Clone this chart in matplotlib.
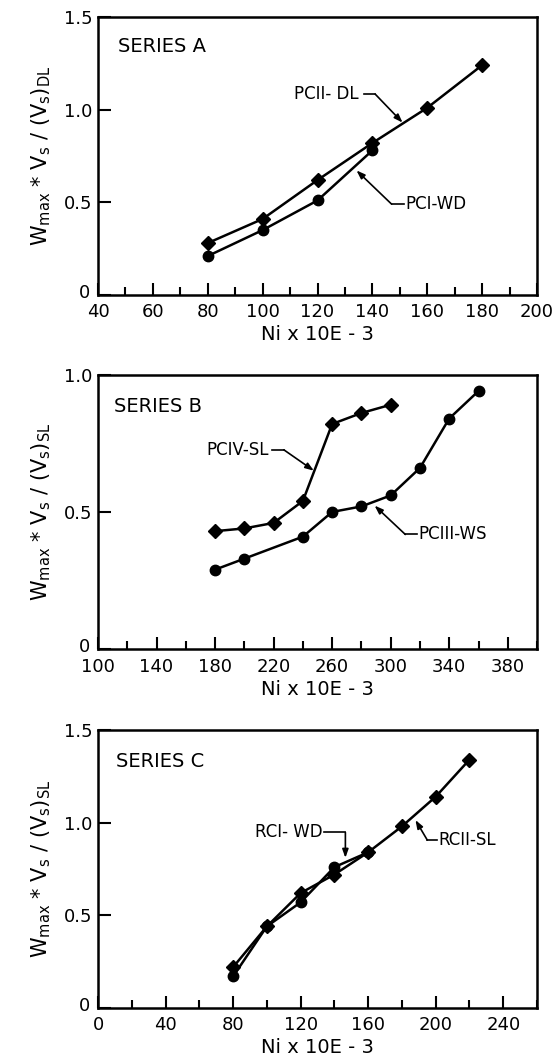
import numpy as np
import matplotlib
matplotlib.use('Agg')
import matplotlib.pyplot as plt
import matplotlib.transforms as mtrans
from matplotlib.ticker import FixedLocator, FuncFormatter

# Series A
a_x_dl = [80, 100, 120, 140, 160, 180]
a_dl = [0.28, 0.41, 0.62, 0.82, 1.01, 1.24]
a_x_wd = [80, 100, 120, 140]
a_wd = [0.21, 0.35, 0.51, 0.78]

# Series B
b_x_sl = [180, 200, 220, 240, 260, 280, 300]
b_sl = [0.43, 0.44, 0.46, 0.54, 0.82, 0.86, 0.89]
b_x_ws = [180, 200, 240, 260, 280, 300, 320, 340, 360]
b_ws = [0.29, 0.33, 0.41, 0.50, 0.52, 0.56, 0.66, 0.84, 0.94]

# Series C
c_x_sl = [80, 100, 120, 140, 160, 180, 200, 220]
c_sl = [0.22, 0.44, 0.62, 0.72, 0.84, 0.98, 1.14, 1.34]
c_x_wd = [80, 100, 120, 140, 160]
c_wd = [0.17, 0.44, 0.57, 0.76, 0.84]

plt.rcParams['font.family'] = ['DejaVu Sans']
plt.rcParams['mathtext.default'] = 'regular'

fig = plt.figure(figsize=(5.6, 10.61), dpi=100)
left, width = 0.175, 0.784
ax_a = fig.add_axes([left, 0.722, width, 0.262])
ax_b = fig.add_axes([left, 0.388, width, 0.259])
ax_c = fig.add_axes([left, 0.050, width, 0.262])

fmt = FuncFormatter(lambda v, p: '0' if v == 0 else f'{v:.1f}')
arrow = dict(arrowstyle='-|>,head_length=0.5,head_width=0.18',
             color='black', lw=1.2, shrinkA=0, shrinkB=0)


def style_axes(ax, xlim, ylim, xmajor, xminor, yticks, sub):
    ax.set_xlim(*xlim)
    ax.set_ylim(*ylim)
    ax.xaxis.set_major_locator(FixedLocator(xmajor))
    ax.xaxis.set_minor_locator(FixedLocator(xminor))
    ax.yaxis.set_major_locator(FixedLocator(yticks))
    ax.yaxis.set_major_formatter(fmt)
    ax.tick_params(which='major', direction='in', length=9, width=1.5,
                   labelsize=13, top=False, right=False)
    ax.tick_params(axis='x', which='major', pad=6)
    ax.tick_params(axis='y', which='major', pad=4)
    ax.tick_params(which='minor', direction='in', length=6, width=1.5,
                   top=False, right=False)
    for s in ax.spines.values():
        s.set_linewidth(1.8)
    ax.set_xlabel('Ni x 10E - 3', fontsize=14, labelpad=3)
    ax.set_ylabel('W$_{max}$ * V$_s$ / (V$_s$)$_{%s}$' % sub, fontsize=15,
                  labelpad=8)
    # nudge the "0" label up and left so it clears the first x label
    fig.canvas.draw()
    zero = ax.get_yticklabels()[0]
    zero.set_transform(zero.get_transform() +
                       mtrans.ScaledTranslation(-2 / 72, 3 / 72,
                                                fig.dpi_scale_trans))


def series(ax, x, y, marker):
    ax.plot(x, y, color='black', lw=1.8, marker=marker, ms=7.5,
            mfc='black', mec='black', zorder=3)


# Panel A
series(ax_a, a_x_dl, a_dl, 'D')
series(ax_a, a_x_wd, a_wd, 'o')
style_axes(ax_a, (40, 200), (0, 1.5), np.arange(40, 201, 20),
           np.arange(50, 200, 20), [0, 0.5, 1.0, 1.5], 'DL')
ax_a.text(0.045, 0.894, 'SERIES A', transform=ax_a.transAxes, fontsize=14,
          va='center')
ax_a.text(135, 1.084, 'PCII- DL', fontsize=12, ha='right', va='center')
ax_a.plot([137, 141], [1.084, 1.084], color='black', lw=1.2)
ax_a.annotate('', xy=(151, 0.93), xytext=(141, 1.084), arrowprops=arrow)
ax_a.text(152, 0.49, 'PCI-WD', fontsize=12, ha='left', va='center')
ax_a.plot([151.5, 147], [0.49, 0.49], color='black', lw=1.2)
ax_a.annotate('', xy=(134.2, 0.672), xytext=(147, 0.49), arrowprops=arrow)

# Panel B
series(ax_b, b_x_sl, b_sl, 'D')
series(ax_b, b_x_ws, b_ws, 'o')
style_axes(ax_b, (100, 400), (0, 1.0), np.arange(100, 381, 40),
           np.arange(120, 401, 40), [0, 0.5, 1.0], 'SL')
ax_b.text(0.037, 0.885, 'SERIES B', transform=ax_b.transAxes, fontsize=14,
          va='center')
ax_b.text(217, 0.726, 'PCIV-SL', fontsize=12, ha='right', va='center')
ax_b.plot([219, 227], [0.726, 0.726], color='black', lw=1.2)
ax_b.annotate('', xy=(247.5, 0.65), xytext=(227, 0.726), arrowprops=arrow)
ax_b.text(319, 0.418, 'PCIII-WS', fontsize=12, ha='left', va='center')
ax_b.plot([318, 310], [0.418, 0.418], color='black', lw=1.2)
ax_b.annotate('', xy=(289, 0.523), xytext=(310, 0.418), arrowprops=arrow)

# Panel C
series(ax_c, c_x_sl, c_sl, 'D')
series(ax_c, c_x_wd, c_wd, 'o')
style_axes(ax_c, (0, 260), (0, 1.5), np.arange(0, 241, 40),
           np.arange(20, 261, 40), [0, 0.5, 1.0, 1.5], 'SL')
ax_c.text(0.041, 0.886, 'SERIES C', transform=ax_c.transAxes, fontsize=14,
          va='center')
ax_c.text(133, 0.947, 'RCI- WD', fontsize=12, ha='right', va='center')
ax_c.plot([134, 146.5], [0.947, 0.947], color='black', lw=1.2)
ax_c.annotate('', xy=(146.5, 0.81), xytext=(146.5, 0.947), arrowprops=arrow)
ax_c.text(201.5, 0.906, 'RCII-SL', fontsize=12, ha='left', va='center')
ax_c.plot([201, 195], [0.906, 0.906], color='black', lw=1.2)
ax_c.annotate('', xy=(188, 1.014), xytext=(195, 0.906), arrowprops=arrow)

fig.savefig('out.png', dpi=100)
